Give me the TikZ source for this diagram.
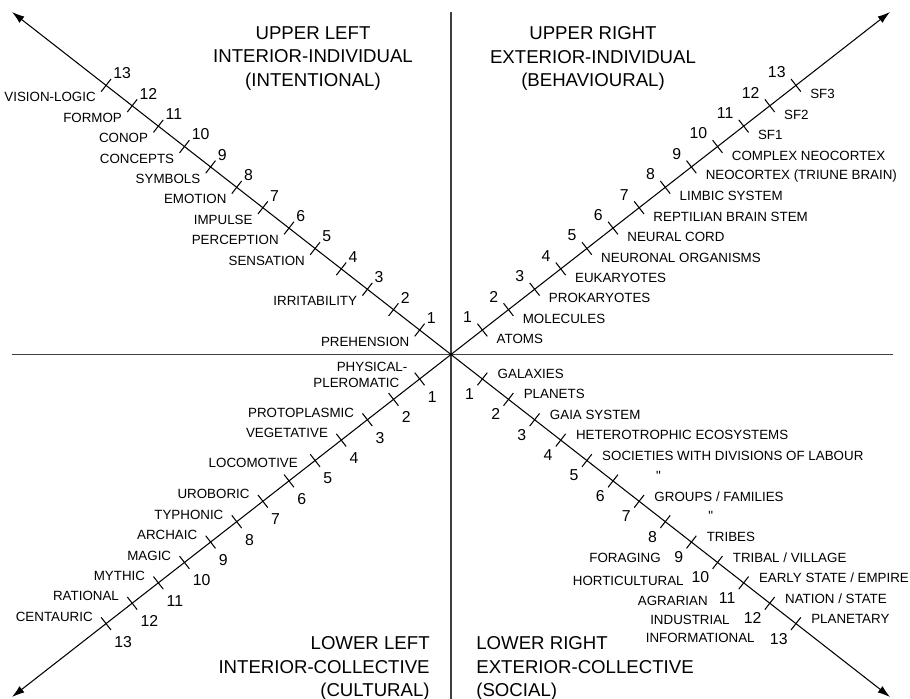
\documentclass[tikz,border=0pt]{standalone}
\usepackage{fontspec}
\setmainfont{Liberation Sans}
\usetikzlibrary{arrows.meta}

\begin{document}
\begin{tikzpicture}[
  x=0.02cm, y=-0.02cm,
  axis/.style={line width=0.7pt,black!75},
  diag/.style={line width=0.6pt,-{Latex[length=2.5mm,width=1.6mm]}},
  tickmark/.style={line width=0.6pt},
  lab/.style={font=\fontsize{7.6}{9}\selectfont,inner sep=0pt},
  num/.style={font=\fontsize{9}{10}\selectfont,inner sep=0pt},
  quad/.style={font=\fontsize{10.6}{13.4}\selectfont,inner sep=0pt}
]
  \useasboundingbox (0,0) rectangle (910,699);

  \coordinate (o) at (451,354.5);
  \coordinate (ulend) at (12,12);
  \coordinate (urend) at (890,12);
  \coordinate (llend) at (12,697);
  \coordinate (lrend) at (890,697);

  \draw[axis] (451,12) -- (451,699);
  \draw[axis] (12,354.5) -- (893,354.5);
  \draw[diag] (o) -- (ulend);
  \draw[diag] (o) -- (urend);
  \draw[diag] (o) -- (llend);
  \draw[diag] (o) -- (lrend);

  % Quadrant titles.
  \node[quad,align=center] (tul) at (313,58.5)
    {UPPER LEFT\\INTERIOR-INDIVIDUAL\\(INTENTIONAL)};
  \node[quad,align=center] (tur) at (593,58.5)
    {UPPER RIGHT\\EXTERIOR-INDIVIDUAL\\(BEHAVIOURAL)};
  \node[quad,align=right,anchor=east] (tll) at (430,668.5)
    {LOWER LEFT\\INTERIOR-COLLECTIVE\\(CULTURAL)};
  \node[quad,align=left,anchor=west] (tlr) at (476,668.5)
    {LOWER RIGHT\\EXTERIOR-COLLECTIVE\\(SOCIAL)};

  % Ticks and their numbers.
  \foreach \k in {1,...,13}{
    \coordinate (ul\k) at ({451-26.13*(\k+0.2)},{354.5-20.39*(\k+0.2)});
    \coordinate (ur\k) at ({451+26.13*(\k+0.2)},{354.5-20.39*(\k+0.2)});
    \coordinate (ll\k) at ({451-26.13*(\k+0.2)},{354.5+20.39*(\k+0.2)});
    \coordinate (lr\k) at ({451+26.13*(\k+0.2)},{354.5+20.39*(\k+0.2)});
    \draw[tickmark] ([shift={(4.9,-6.3)}]ul\k) -- ([shift={(-4.9,6.3)}]ul\k);
    \draw[tickmark] ([shift={(4.9,6.3)}]ur\k) -- ([shift={(-4.9,-6.3)}]ur\k);
    \draw[tickmark] ([shift={(4.9,6.3)}]ll\k) -- ([shift={(-4.9,-6.3)}]ll\k);
    \draw[tickmark] ([shift={(4.9,-6.3)}]lr\k) -- ([shift={(-4.9,6.3)}]lr\k);
    \node[num,anchor=west] (ulnum\k) at ([shift={(7,-12)}]ul\k) {\k};
    \node[num,anchor=east] (urnum\k) at ([shift={(-10,-13)}]ur\k) {\k};
    \node[num,anchor=west] (llnum\k) at ([shift={(8,18)}]ll\k) {\k};
    \node[num,anchor=east] (lrnum\k) at ([shift={(-8,15)}]lr\k) {\k};
  }

  % Upper left: intentional levels.
  \foreach \k/\txt in {1/PREHENSION,3/IRRITABILITY,5/SENSATION,6/PERCEPTION,
      7/IMPULSE,8/EMOTION,9/SYMBOLS,10/CONCEPTS,11/CONOP,12/FORMOP,
      13/VISION-LOGIC}
    \node[lab,anchor=east] (ullab\k) at ([shift={(-10,12)}]ul\k) {\txt};

  % Upper right: behavioural levels.
  \foreach \k/\txt in {1/ATOMS,2/MOLECULES,3/PROKARYOTES,4/EUKARYOTES,
      5/{NEURONAL ORGANISMS},6/{NEURAL CORD},7/{REPTILIAN BRAIN STEM},
      8/{LIMBIC SYSTEM},9/{NEOCORTEX (TRIUNE BRAIN)},10/{COMPLEX NEOCORTEX},
      11/SF1,12/SF2,13/SF3}
    \node[lab,anchor=west] (urlab\k) at ([shift={(14,9)}]ur\k) {\txt};

  % Lower left: cultural levels.
  \node[lab,anchor=east] (llphys) at ([shift={(-12,-12)}]ll1) {PHYSICAL-};
  \node[lab,anchor=east] (llplero) at ([shift={(-20,4)}]ll1) {PLEROMATIC};
  \node[lab,anchor=east] (lllab5) at ([shift={(-17,2.5)}]ll5) {LOCOMOTIVE};
  \foreach \k/\txt in {3/PROTOPLASMIC,4/VEGETATIVE,7/UROBORIC,8/TYPHONIC,
      9/ARCHAIC,10/MAGIC,11/MYTHIC,12/RATIONAL,13/CENTAURIC}
    \node[lab,anchor=east] (lllab\k) at ([shift={(-13,-7)}]ll\k) {\txt};

  % Lower right: social levels.
  \foreach \k/\txt in {1/GALAXIES,2/PLANETS,3/{GAIA SYSTEM},
      4/{HETEROTROPHIC ECOSYSTEMS},5/{SOCIETIES WITH DIVISIONS OF LABOUR},
      7/{GROUPS / FAMILIES},9/TRIBES,10/{TRIBAL / VILLAGE},
      11/{EARLY STATE / EMPIRE},12/{NATION / STATE},13/PLANETARY}
    \node[lab,anchor=west] (lrlab\k) at ([shift={(15,-5)}]lr\k) {\txt};
  \node[lab] (lrditto6) at ([shift={(45.5,-5.5)}]lr6) {\textquotedbl};
  \node[lab] (lrditto8) at ([shift={(45.5,-5.5)}]lr8) {\textquotedbl};

  \node[lab,anchor=east] (lrbase9) at (661,558) {FORAGING};
  \node[lab,anchor=east] (lrbase10) at (684,581) {HORTICULTURAL};
  \node[lab,anchor=east] (lrbase11) at (708,601) {AGRARIAN};
  \node[lab,anchor=east] (lrbase12) at (730,620) {INDUSTRIAL};
  \node[lab,anchor=east] (lrbase13) at (755,638) {INFORMATIONAL};
\end{tikzpicture}
\end{document}
